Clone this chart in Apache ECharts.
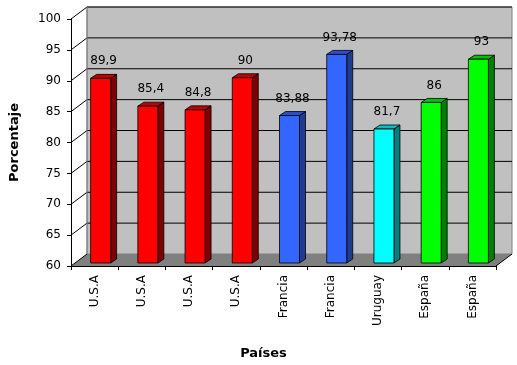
<!DOCTYPE html>
<html>
<head>
<meta charset="utf-8">
<script src="https://cdn.jsdelivr.net/npm/echarts@6/dist/echarts.min.js"></script>
<style>
html,body{margin:0;padding:0;background:#fff;}
#chart{width:517px;height:365px;}
</style>
</head>
<body>
<div id="chart"></div>
<script>
// ---- data ----
var categories = ['U.S.A', 'U.S.A', 'U.S.A', 'U.S.A', 'Francia', 'Francia', 'Uruguay', 'España', 'España'];
var values = [89.9, 85.4, 84.8, 90, 83.88, 93.78, 81.7, 86, 93];
var yTicks = [60, 65, 70, 75, 80, 85, 90, 95, 100];

// ---- styles ----
var FONT = '"DejaVu Sans", Arial, sans-serif';
var palette = {
  'U.S.A':   { front: '#ff0000', side: '#800000', top: '#c00000' },
  'Francia': { front: '#3366ff', side: '#203c90', top: '#2a4fcc' },
  'Uruguay': { front: '#00ffff', side: '#008080', top: '#00c0c0' },
  'España':  { front: '#00ff00', side: '#008000', top: '#00c000' }
};
var DX = 16, DY = -12;           // wall depth
var BFX = 0, BFY = -3;           // bar front plane offset
var BDX = 6, BDY = -4;           // bar depth

var chart = echarts.init(document.getElementById('chart'));

function renderWalls(params, api) {
  var cs = params.coordSys;
  var x0 = cs.x, x1 = cs.x + cs.width;
  var yb = api.coord([0, yTicks[0]])[1];
  var yt = api.coord([0, yTicks[yTicks.length - 1]])[1];
  var children = [];
  children.push({ type: 'polygon', shape: { points: [[x0 + DX, yt + DY], [x1 + DX, yt + DY], [x1 + DX, yb + DY], [x0 + DX, yb + DY]] },
    style: { fill: '#c0c0c0', stroke: '#808080', lineWidth: 1 } });
  children.push({ type: 'polygon', shape: { points: [[x0, yb], [x0 + DX, yb + DY], [x1 + DX, yb + DY], [x1, yb]] },
    style: { fill: '#808080', stroke: null } });
  yTicks.forEach(function (v, i) {
    var y = api.coord([0, v])[1];
    if (i > 0) {
      children.push({ type: 'polyline', shape: { points: [[x0, y], [x0 + DX, y + DY], [x1 + DX, y + DY]] },
        style: { stroke: '#000', lineWidth: 1, fill: null } });
    } else {
      children.push({ type: 'line', shape: { x1: x0, y1: y, x2: x0 + DX, y2: y + DY }, style: { stroke: '#000', lineWidth: 1 } });
    }
  });
  children.push({ type: 'line', shape: { x1: x0 + DX, y1: yt + DY, x2: x0 + DX, y2: yb + DY }, style: { stroke: '#808080', lineWidth: 1 } });
  children.push({ type: 'line', shape: { x1: x1, y1: yb, x2: x1 + DX, y2: yb + DY }, style: { stroke: '#000', lineWidth: 1 } });
  return { type: 'group', children: children };
}

function renderBar(params, api) {
  var idx = api.value(0);
  var v = api.value(1);
  var pTop = api.coord([idx, v]);
  var pBot = api.coord([idx, yTicks[0]]);
  var cx = pTop[0];
  var l = cx - 4 + BFX, r = cx + 16 + BFX;
  var t = pTop[1] + BFY, b = pBot[1] + BFY;
  var c = palette[categories[idx]];
  var s = { stroke: '#000', lineWidth: 0.8 };
  var label = String(values[idx]).replace('.', ',');
  return {
    type: 'group',
    children: [
      { type: 'polygon', shape: { points: [[r, t], [r + BDX, t + BDY], [r + BDX, b + BDY], [r, b]] },
        style: { fill: c.side, stroke: s.stroke, lineWidth: s.lineWidth } },
      { type: 'polygon', shape: { points: [[l, t], [l + BDX, t + BDY], [r + BDX, t + BDY], [r, t]] },
        style: { fill: c.top, stroke: s.stroke, lineWidth: s.lineWidth } },
      { type: 'rect', shape: { x: l, y: t, width: r - l, height: b - t },
        style: { fill: c.front, stroke: s.stroke, lineWidth: s.lineWidth } },
      { type: 'text', x: (l + r) / 2 + 3, y: t - 17,
        style: { text: label, fill: '#000', font: '12px ' + FONT, align: 'center', verticalAlign: 'middle' } }
    ]
  };
}

chart.setOption({
  backgroundColor: '#ffffff',
  animation: false,
  grid: { left: 63, right: 21, top: 19, bottom: 90, containLabel: false },
  xAxis: {
    type: 'category',
    data: categories,
    boundaryGap: true,
    name: 'Países',
    nameLocation: 'middle',
    nameGap: 81,
    nameTextStyle: { fontFamily: FONT, fontWeight: 'bold', fontSize: 13, color: '#000', padding: [0, 40, 0, 0] },
    axisLine: { show: true, lineStyle: { color: '#000', width: 1 } },
    axisTick: { show: true, length: 4, lineStyle: { color: '#000' } },
    axisLabel: { rotate: 90, fontFamily: FONT, fontSize: 12, color: '#000', margin: 9, interval: 0 },
    splitLine: { show: false }
  },
  yAxis: {
    type: 'value',
    min: 60, max: 100, interval: 5,
    name: 'Porcentaje',
    nameLocation: 'middle',
    nameRotate: 90,
    nameGap: 50,
    nameTextStyle: { fontFamily: FONT, fontWeight: 'bold', fontSize: 13, color: '#000' },
    axisLine: { show: true, lineStyle: { color: '#000', width: 1 } },
    axisTick: { show: true, length: 4, lineStyle: { color: '#000' } },
    axisLabel: { fontFamily: FONT, fontSize: 12, color: '#000', margin: 10 },
    splitLine: { show: false }
  },
  series: [
    { type: 'custom', name: 'walls', renderItem: renderWalls, data: [[0, 60]], z: 1, silent: true, clip: false },
    { type: 'custom', name: 'bars', renderItem: renderBar, z: 2, clip: false,
      data: values.map(function (v, i) { return [i, v]; }) }
  ]
});
</script>
</body>
</html>
